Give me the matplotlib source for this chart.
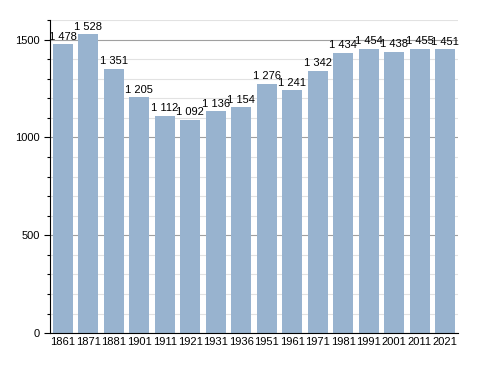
import matplotlib
matplotlib.use('Agg')
import matplotlib.pyplot as plt
from matplotlib.ticker import MultipleLocator

years = ['1861', '1871', '1881', '1901', '1911', '1921', '1931', '1936',
         '1951', '1961', '1971', '1981', '1991', '2001', '2011', '2021']
population = [1478, 1528, 1351, 1205, 1112, 1092, 1136, 1154,
              1276, 1241, 1342, 1434, 1454, 1438, 1455, 1451]

plt.rcParams['font.family'] = ['Liberation Sans', 'DejaVu Sans']

fig = plt.figure(figsize=(4.88, 3.73), dpi=100)
ax = fig.add_axes([0.1025, 0.107, 0.836, 0.839])

x = range(len(years))
ax.bar(x, population, width=0.8, color='#98b3cf', zorder=2)

for i, v in enumerate(population):
    label = f'{v:,}'.replace(',', ' ')
    ax.text(i, v + 12, label, ha='center', va='bottom', fontsize=8, zorder=3)

ax.set_xlim(-0.5, len(years) - 0.5)
ax.set_ylim(0, 1600)
ax.set_xticks(list(x))
ax.set_xticklabels(years, fontsize=8)
ax.yaxis.set_major_locator(MultipleLocator(500))
ax.yaxis.set_minor_locator(MultipleLocator(100))
ax.tick_params(axis='y', labelsize=8, length=4, width=0.8)
ax.tick_params(axis='y', which='minor', length=2.5, width=0.8)
ax.tick_params(axis='x', length=0, pad=3)

ax.grid(axis='y', which='major', color='#a0a0a0', linewidth=0.8, zorder=0)
ax.grid(axis='y', which='minor', color='#e2e2e2', linewidth=0.8, zorder=0)
ax.set_axisbelow(True)

for s in ['top', 'right']:
    ax.spines[s].set_visible(False)

plt.savefig('out.png', dpi=100)
